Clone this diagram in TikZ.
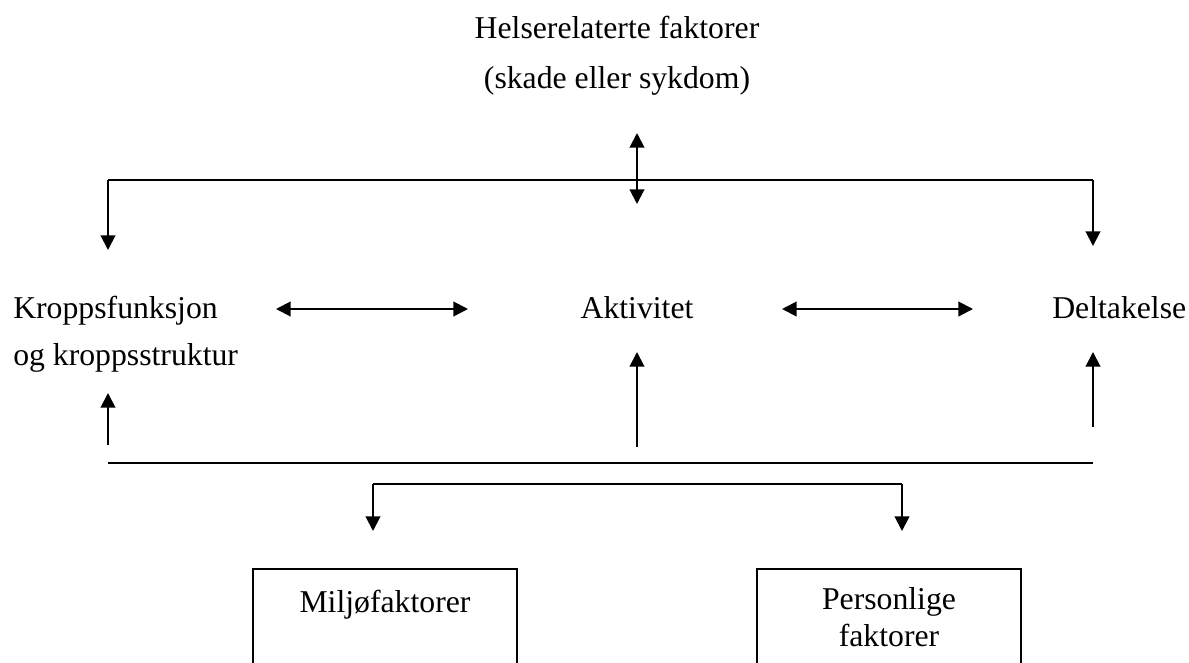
\documentclass[tikz,border=0pt]{standalone}
\usepackage{fontspec}
\setmainfont{Liberation Serif}
\usetikzlibrary{arrows.meta}
\tikzset{
  lbl/.style={inner sep=0pt, font=\fontsize{23.8}{28}\selectfont},
  conn/.style={line width=1.5pt},
  arr/.style={conn, -{Triangle[length=11pt,width=11pt]}},
  darr/.style={conn, {Triangle[length=11pt,width=11pt]}-{Triangle[length=11pt,width=11pt]}},
  boxline/.style={line width=1.5pt}
}
\begin{document}
\begin{tikzpicture}[x=0.75pt,y=-0.75pt]
\useasboundingbox (0,0) rectangle (1189,662);
% texts
\node[lbl, anchor=base] (h1) at (617,38) {Helserelaterte faktorer};
\node[lbl, anchor=base] (h2) at (617,88) {(skade eller sykdom)};
\node[lbl, anchor=base west] (k1) at (13,318) {Kroppsfunksjon};
\node[lbl, anchor=base west] (k2) at (13,365) {og kroppsstruktur};
\node[lbl, anchor=base] (akt) at (637,318) {Aktivitet};
\node[lbl, anchor=base west] (del) at (1052,318) {Deltakelse};
\node[lbl, anchor=base] (mil) at (385,612) {Miljøfaktorer};
\node[lbl, anchor=base] (p1) at (889,609) {Personlige};
\node[lbl, anchor=base] (p2) at (889,646) {faktorer};
% coordinates
\coordinate (tA) at (637,133);
\coordinate (tB) at (637,204);
\coordinate (tl) at (108,180);
\coordinate (tr) at (1093,180);
\coordinate (tlE) at (108,250);
\coordinate (trE) at (1093,246);
\coordinate (mA1) at (276,309);
\coordinate (mA2) at (468,309);
\coordinate (mB1) at (782,309);
\coordinate (mB2) at (973,309);
\coordinate (bl) at (108,463);
\coordinate (br) at (1093,463);
\coordinate (ulS) at (108,445);
\coordinate (ulE) at (108,393);
\coordinate (umS) at (637,447);
\coordinate (umE) at (637,352);
\coordinate (urS) at (1093,427);
\coordinate (urE) at (1093,352);
\coordinate (bkl) at (373,484);
\coordinate (bkr) at (902,484);
\coordinate (bklE) at (373,531);
\coordinate (bkrE) at (902,531);
% connectors
\draw[darr] (tA) -- (tB);
\draw[conn] (tl) -- (tr);
\draw[arr] (tl) -- (tlE);
\draw[arr] (tr) -- (trE);
\draw[darr] (mA1) -- (mA2);
\draw[darr] (mB1) -- (mB2);
\draw[arr] (ulS) -- (ulE);
\draw[arr] (umS) -- (umE);
\draw[arr] (urS) -- (urE);
\draw[conn] (bl) -- (br);
\draw[arr] (bkl) -- (bklE);
\draw[arr] (bkr) -- (bkrE);
\draw[conn] (bkl) -- (bkr);
% boxes (open at the bottom edge of the picture)
\draw[boxline] (253,663) |- (517,569) -- (517,663);
\draw[boxline] (757,663) |- (1021,569) -- (1021,663);
\end{tikzpicture}
\end{document}
